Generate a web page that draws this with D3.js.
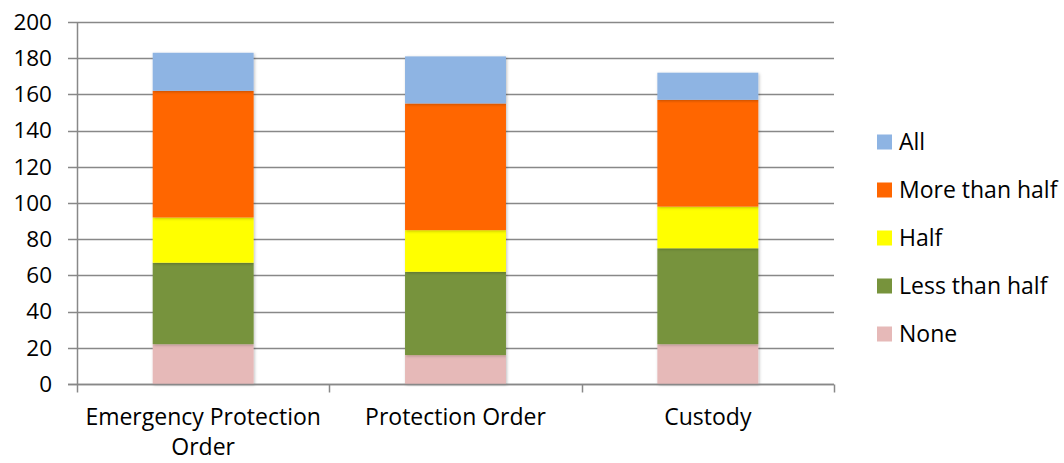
<!DOCTYPE html>
<html>
<head>
<meta charset="utf-8">
<script src="https://cdn.jsdelivr.net/npm/d3@7"></script>
<style>
  body { margin: 0; background: #fff; }
  svg text { font-family: "Open Sans", sans-serif; fill: #000; }
</style>
</head>
<body>
<div id="chart"></div>
<script>
const width = 1064;
const height = 463;

// Data
const categories = ["Emergency Protection Order", "Protection Order", "Custody"];
const seriesNames = ["None", "Less than half", "Half", "More than half", "All"];
const none = [22, 16, 22];
const lessThanHalf = [45, 46, 53];
const half = [25, 23, 23];
const moreThanHalf = [70, 70, 59];
const all = [21, 26, 15];
const yTicks = [0, 20, 40, 60, 80, 100, 120, 140, 160, 180, 200];

const colors = {
  "None": "#e6b9b8",
  "Less than half": "#77933c",
  "Half": "#ffff00",
  "More than half": "#ff6600",
  "All": "#8eb4e3"
};

const rows = categories.map((c, i) => ({
  cat: c,
  "None": none[i],
  "Less than half": lessThanHalf[i],
  "Half": half[i],
  "More than half": moreThanHalf[i],
  "All": all[i]
}));

const margin = { left: 77, right: 230, top: 22, bottom: 79 };

const svg = d3.select("#chart")
  .append("svg")
  .attr("width", width)
  .attr("height", height);

// soft shadow under bars
const filter = svg.append("defs").append("filter")
  .attr("id", "shadow")
  .attr("x", "-10%").attr("y", "-10%")
  .attr("width", "120%").attr("height", "120%");
filter.append("feDropShadow")
  .attr("dx", 1).attr("dy", 1)
  .attr("stdDeviation", 1.5)
  .attr("flood-color", "#000")
  .attr("flood-opacity", 0.25);

const x = d3.scaleBand()
  .domain(categories)
  .range([margin.left, width - margin.right])
  .paddingInner(0.6)
  .paddingOuter(0.3);

const y = d3.scaleLinear()
  .domain([0, 200])
  .range([height - margin.bottom, margin.top]);

// gridlines
svg.append("g")
  .selectAll("line")
  .data(yTicks)
  .enter()
  .append("line")
  .attr("x1", margin.left - 9)
  .attr("x2", width - margin.right)
  .attr("y1", d => Math.round(y(d)) + 0.5)
  .attr("y2", d => Math.round(y(d)) + 0.5)
  .attr("stroke", "#888")
  .attr("stroke-width", 1.5);

// y labels
svg.append("g")
  .selectAll("text")
  .data(yTicks)
  .enter()
  .append("text")
  .attr("x", 52)
  .attr("y", d => y(d))
  .attr("dy", "0.35em")
  .attr("text-anchor", "end")
  .style("font-size", "22.5px")
  .text(d => d);

// stacked bars
const stack = d3.stack().keys(seriesNames);
const layers = stack(rows);

svg.append("g")
  .selectAll("g")
  .data(layers)
  .enter()
  .append("g")
  .attr("fill", d => colors[d.key])
  .selectAll("rect")
  .data(d => d)
  .enter()
  .append("rect")
  .attr("x", d => x(d.data.cat))
  .attr("y", d => y(d[1]))
  .attr("width", x.bandwidth())
  .attr("height", d => y(d[0]) - y(d[1]))
  .attr("filter", "url(#shadow)");

// axes lines
const y0 = Math.round(y(0)) + 0.5;
svg.append("line")
  .attr("x1", margin.left + 0.5).attr("x2", margin.left + 0.5)
  .attr("y1", margin.top).attr("y2", y0)
  .attr("stroke", "#888").attr("stroke-width", 1.5);
svg.append("line")
  .attr("x1", margin.left - 9).attr("x2", width - margin.right)
  .attr("y1", y0).attr("y2", y0)
  .attr("stroke", "#888").attr("stroke-width", 1.5);

// category boundary ticks
const step = x.step();
svg.append("g")
  .selectAll("line")
  .data(d3.range(categories.length + 1))
  .enter()
  .append("line")
  .attr("x1", i => Math.round(margin.left + i * step) + 0.5)
  .attr("x2", i => Math.round(margin.left + i * step) + 0.5)
  .attr("y1", y0)
  .attr("y2", y0 + 8)
  .attr("stroke", "#888")
  .attr("stroke-width", 1.5);

// category labels (wrapped like the original)
const catLines = [["Emergency Protection", "Order"], ["Protection Order"], ["Custody"]];
svg.append("g")
  .selectAll("text")
  .data(categories)
  .enter()
  .append("text")
  .attr("text-anchor", "middle")
  .style("font-size", "23px")
  .each(function(d, i) {
    const t = d3.select(this);
    catLines[i].forEach((ln, j) => {
      t.append("tspan")
        .attr("x", x(d) + x.bandwidth() / 2)
        .attr("y", 425 + j * 30)
        .text(ln);
    });
  });

// legend (top to bottom: All ... None)
const legendKeys = seriesNames.slice().reverse();
const legend = svg.append("g")
  .selectAll("g")
  .data(legendKeys)
  .enter()
  .append("g")
  .attr("transform", (d, i) => `translate(877, ${142 + i * 48})`);

legend.append("rect")
  .attr("x", 0).attr("y", -7.5)
  .attr("width", 15).attr("height", 15)
  .attr("fill", d => colors[d]);

legend.append("text")
  .attr("x", 22)
  .attr("y", 0)
  .attr("dy", "0.35em")
  .style("font-size", "23px")
  .text(d => d);
</script>
</body>
</html>
